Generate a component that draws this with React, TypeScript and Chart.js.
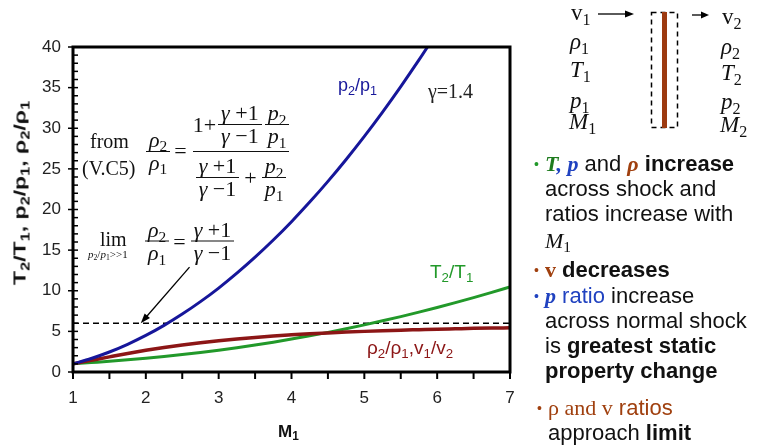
import React, { useEffect, useRef } from "react";
import { Chart, registerables } from "chart.js";

Chart.register(...registerables);

// ---- data (gamma = 1.4) ----
const machNumber = [1, 1.25, 1.5, 1.75, 2, 2.25, 2.5, 2.75, 3, 3.25, 3.5, 3.75, 4, 4.25, 4.5, 4.75, 5, 5.25, 5.5, 5.75, 6, 6.25, 6.5, 6.75, 7];
const pressureRatio = [1.0, 1.66, 2.46, 3.41, 4.5, 5.74, 7.13, 8.66, 10.33, 12.16, 14.13, 16.24, 18.5, 20.91, 23.46, 26.16, 29.0, 31.99, 35.13, 38.41, 41.83];
const densityRatio = [1.0, 1.43, 1.86, 2.28, 2.67, 3.02, 3.33, 3.61, 3.86, 4.07, 4.26, 4.43, 4.57, 4.7, 4.81, 4.91, 5.0, 5.08, 5.15, 5.21, 5.27, 5.32, 5.37, 5.41, 5.44];
const temperatureRatio = [1.0, 1.16, 1.32, 1.5, 1.69, 1.9, 2.14, 2.4, 2.68, 2.99, 3.32, 3.67, 4.05, 4.45, 4.88, 5.33, 5.8, 6.3, 6.82, 7.37, 7.94, 8.54, 9.16, 9.8, 10.47];
const limitValue = 6;
const xRange = [1, 7];
const yRange = [0, 40];
const xTickMarks = [1, 1.5, 2, 2.5, 3, 3.5, 4, 4.5, 5, 5.5, 6, 6.5, 7];
const arrowFrom = { x: 2.6, y: 12.9 };
const arrowTo = { x: 1.93, y: 6.0 };

const BLUE = "#16169a";
const GREEN = "#22992a";
const RED = "#8c1616";
const BROWN = "#a0400f";
const TXTBLUE = "#2042c0";
const SERIF = '"Liberation Serif", "Times New Roman", serif';
const SANS = '"Liberation Sans", Arial, sans-serif';

const toPoints = (ys: number[]) => ys.map((y, i) => ({ x: machNumber[i], y }));

const framePlugin = {
  id: "frame",
  afterDatasetsDraw(chart: any) {
    const { ctx, chartArea: a, scales } = chart;
    const x = scales.x;
    const y = scales.y;
    ctx.save();
    // arrow
    const x0 = x.getPixelForValue(arrowFrom.x);
    const y0 = y.getPixelForValue(arrowFrom.y);
    const x1 = x.getPixelForValue(arrowTo.x);
    const y1 = y.getPixelForValue(arrowTo.y);
    const ang = Math.atan2(y1 - y0, x1 - x0);
    ctx.strokeStyle = "#000";
    ctx.fillStyle = "#000";
    ctx.lineWidth = 1.3;
    ctx.beginPath();
    ctx.moveTo(x0, y0);
    ctx.lineTo(x1 - 6 * Math.cos(ang), y1 - 6 * Math.sin(ang));
    ctx.stroke();
    ctx.beginPath();
    ctx.moveTo(x1, y1);
    ctx.lineTo(x1 - 10 * Math.cos(ang) + 3.5 * Math.sin(ang), y1 - 10 * Math.sin(ang) - 3.5 * Math.cos(ang));
    ctx.lineTo(x1 - 10 * Math.cos(ang) - 3.5 * Math.sin(ang), y1 - 10 * Math.sin(ang) + 3.5 * Math.cos(ang));
    ctx.closePath();
    ctx.fill();
    // frame
    ctx.lineWidth = 3;
    ctx.strokeRect(a.left, a.top, a.right - a.left, a.bottom - a.top);
    // x tick marks
    ctx.lineWidth = 2;
    for (const v of xTickMarks) {
      const px = x.getPixelForValue(v);
      ctx.beginPath();
      ctx.moveTo(px, a.bottom);
      ctx.lineTo(px, a.bottom + 7);
      ctx.stroke();
    }
    // y tick marks
    ctx.lineWidth = 1.5;
    for (let v = yRange[0]; v <= yRange[1]; v++) {
      const py = y.getPixelForValue(v);
      const major = v % 5 === 0;
      ctx.beginPath();
      ctx.moveTo(a.left - (major ? 5 : 0), py);
      ctx.lineTo(a.left + 5, py);
      ctx.stroke();
    }
    ctx.restore();
  },
};

const Sub = ({ children }: any) => (
  <span style={{ fontSize: "0.7em", position: "relative", top: "0.3em", lineHeight: 0 }}>{children}</span>
);

const Txt = ({ x, base, size, family = SANS, color = "#111", style = {}, children }: any) => (
  <div
    style={{
      position: "absolute",
      left: x,
      top: base - size * 0.84,
      fontSize: size,
      lineHeight: `${size}px`,
      fontFamily: family,
      color,
      whiteSpace: "nowrap",
      ...style,
    }}
  >
    {children}
  </div>
);

const Frac = ({ n, d, pad = 3 }: any) => (
  <span style={{ display: "inline-flex", flexDirection: "column", alignItems: "center", verticalAlign: "middle" }}>
    <span style={{ lineHeight: "20px", padding: `0 ${pad}px 1px`, display: "flex", alignItems: "center" }}>{n}</span>
    <span
      style={{
        lineHeight: "20px",
        borderTop: "1.3px solid #111",
        alignSelf: "stretch",
        display: "flex",
        justifyContent: "center",
        alignItems: "center",
        paddingTop: 1,
      }}
    >
      {d}
    </span>
  </span>
);

const GP = <span><i>γ</i>&nbsp;+1</span>;
const GM = <span><i>γ</i>&nbsp;−1</span>;
const P2 = <span><i>p</i><Sub>2</Sub></span>;
const P1 = <span><i>p</i><Sub>1</Sub></span>;
const R2 = <span><i>ρ</i><Sub>2</Sub></span>;
const R1 = <span><i>ρ</i><Sub>1</Sub></span>;

const Bullet = ({ x, base, color, size = 22, children, style = {} }: any) => (
  <Txt x={x} base={base} size={size} style={style}>
    <span style={{ position: "absolute", left: -11, top: 0, fontSize: 14, color }}>•</span>
    {children}
  </Txt>
);

export default function App() {
  const canvasRef = useRef<HTMLCanvasElement>(null);

  useEffect(() => {
    if (!canvasRef.current) return;
    const font = { family: SANS, size: 17 };
    const chart = new Chart(canvasRef.current, {
      type: "line",
      data: {
        datasets: [
          {
            label: "p2/p1",
            data: toPoints(pressureRatio),
            borderColor: BLUE,
            borderWidth: 3,
            pointRadius: 0,
            cubicInterpolationMode: "monotone",
          },
          {
            label: "rho2/rho1, v1/v2",
            data: toPoints(densityRatio),
            borderColor: RED,
            borderWidth: 3.5,
            pointRadius: 0,
            cubicInterpolationMode: "monotone",
          },
          {
            label: "T2/T1",
            data: toPoints(temperatureRatio),
            borderColor: GREEN,
            borderWidth: 3,
            pointRadius: 0,
            cubicInterpolationMode: "monotone",
          },
          {
            label: "limit",
            data: [
              { x: xRange[0], y: limitValue },
              { x: xRange[1], y: limitValue },
            ],
            borderColor: "#000",
            borderWidth: 1.3,
            borderDash: [6, 4],
            pointRadius: 0,
          },
        ],
      },
      options: {
        responsive: false,
        animation: false,
        devicePixelRatio: 1,
        layout: { padding: { top: 47, right: 253, left: 0, bottom: 0 } },
        plugins: { legend: { display: false }, tooltip: { enabled: false } },
        scales: {
          x: {
            type: "linear",
            min: xRange[0],
            max: xRange[1],
            ticks: { stepSize: 1, padding: 16, color: "#222", font },
            grid: { display: false, drawTicks: false },
            border: { display: false },
            afterFit: (s: any) => {
              s.height = 76;
            },
          },
          y: {
            type: "linear",
            min: yRange[0],
            max: yRange[1],
            ticks: { stepSize: 5, padding: 12, color: "#222", font },
            grid: { display: false, drawTicks: false },
            border: { display: false },
            afterFit: (s: any) => {
              s.width = 73;
            },
          },
        },
      } as any,
      plugins: [framePlugin],
    });
    return () => chart.destroy();
  }, []);

  const mathBox: any = {
    position: "absolute",
    transform: "translateY(-50%)",
    display: "flex",
    alignItems: "center",
    fontFamily: SERIF,
    fontSize: 22,
    color: "#111",
    whiteSpace: "nowrap",
  };

  return (
    <div style={{ position: "absolute", left: 0, top: 0, width: 763, height: 448, background: "#fff", overflow: "hidden" }}>
      <canvas ref={canvasRef} width={763} height={448} style={{ position: "absolute", left: 0, top: 0, width: 763, height: 448 }} />

      {/* axis titles */}
      <div
        style={{
          position: "absolute",
          left: 20,
          top: 193,
          transform: "translate(-50%, -50%) rotate(-90deg) scaleX(1.36)",
          fontFamily: SANS,
          fontWeight: "bold",
          fontSize: 17,
          lineHeight: "17px",
          whiteSpace: "nowrap",
          color: "#111",
        }}
      >
        T<Sub>2</Sub>/T<Sub>1</Sub>, p<Sub>2</Sub>/p<Sub>1</Sub>, ρ<Sub>2</Sub>/ρ<Sub>1</Sub>
      </div>
      <Txt x={278} base={437} size={17} style={{ fontWeight: "bold" }}>
        M<Sub>1</Sub>
      </Txt>

      {/* curve labels */}
      <Txt x={338} base={91} size={18} color={BLUE}>
        p<Sub>2</Sub>/p<Sub>1</Sub>
      </Txt>
      <Txt x={428} base={98} size={20} family={SERIF} color="#222">
        γ=1.4
      </Txt>
      <Txt x={430} base={278} size={19} color={GREEN}>
        T<Sub>2</Sub>/T<Sub>1</Sub>
      </Txt>
      <Txt x={367} base={354} size={19} color={RED}>
        ρ<Sub>2</Sub>/ρ<Sub>1</Sub>,v<Sub>1</Sub>/v<Sub>2</Sub>
      </Txt>

      {/* equation (V.C5) */}
      <Txt x={90} base={148} size={20} family={SERIF}>from</Txt>
      <Txt x={82} base={175} size={20} family={SERIF}>(V.C5)</Txt>
      <div style={{ ...mathBox, left: 146, top: 151 }}>
        <Frac n={R2} d={R1} />
        <span style={{ margin: "0 6px 0 4px" }}>=</span>
        <Frac
          pad={0}
          n={
            <span style={{ display: "flex", alignItems: "center", paddingBottom: 4 }}>
              <span style={{ marginRight: 2 }}>1+</span>
              <Frac n={GP} d={GM} />
              <span style={{ width: 3 }} />
              <Frac n={P2} d={P1} />
            </span>
          }
          d={
            <span style={{ display: "flex", alignItems: "center", paddingTop: 3 }}>
              <Frac n={GP} d={GM} />
              <span style={{ margin: "0 5px" }}>+</span>
              <Frac n={P2} d={P1} />
            </span>
          }
        />
      </div>

      {/* limit equation */}
      <Txt x={100} base={246} size={20} family={SERIF}>lim</Txt>
      <Txt x={88} base={258} size={11} family={SERIF}>
        <i>p</i><Sub>2</Sub>/<i>p</i><Sub>1</Sub>&gt;&gt;1
      </Txt>
      <div style={{ ...mathBox, left: 145, top: 241 }}>
        <Frac n={R2} d={R1} />
        <span style={{ margin: "0 5px 0 4px" }}>=</span>
        <Frac n={GP} d={GM} />
      </div>

      {/* shock diagram */}
      <svg width={763} height={448} style={{ position: "absolute", left: 0, top: 0 }}>
        <line x1={598} y1={14} x2={626} y2={14} stroke="#000" strokeWidth={1.3} />
        <polygon points="634,14 625,10.5 625,17.5" fill="#000" />
        <line x1={692} y1={15} x2={702} y2={15} stroke="#000" strokeWidth={1.3} />
        <polygon points="709,15 701,11.5 701,18.5" fill="#000" />
        <rect x={651.5} y={12.5} width={26} height={115} fill="none" stroke="#000" strokeWidth={1.5} strokeDasharray="5,4" />
        <rect x={662} y={12} width={5} height={116} fill="#9c3a10" />
      </svg>
      <Txt x={571} base={20} size={23} family={SERIF}>v<Sub>1</Sub></Txt>
      <Txt x={570} base={49} size={23} family={SERIF}><i>ρ</i><Sub>1</Sub></Txt>
      <Txt x={570} base={77} size={23} family={SERIF}><i>T</i><Sub>1</Sub></Txt>
      <Txt x={570} base={108} size={23} family={SERIF}><i>p</i><Sub>1</Sub></Txt>
      <Txt x={569} base={129} size={23} family={SERIF}><i>M</i><Sub>1</Sub></Txt>
      <Txt x={722} base={24} size={23} family={SERIF}>v<Sub>2</Sub></Txt>
      <Txt x={721} base={54} size={23} family={SERIF}><i>ρ</i><Sub>2</Sub></Txt>
      <Txt x={721} base={80} size={23} family={SERIF}><i>T</i><Sub>2</Sub></Txt>
      <Txt x={721} base={109} size={23} family={SERIF}><i>p</i><Sub>2</Sub></Txt>
      <Txt x={720} base={132} size={23} family={SERIF}><i>M</i><Sub>2</Sub></Txt>

      {/* bullet text */}
      <Bullet x={545} base={171} color={GREEN}>
        <span style={{ fontFamily: SERIF, fontStyle: "italic", fontWeight: "bold", color: "#1e7b1e" }}>T</span>
        <span style={{ fontFamily: SERIF, fontStyle: "italic", fontWeight: "bold", color: TXTBLUE }}>, p</span>
        {" and "}
        <span style={{ fontFamily: SERIF, fontStyle: "italic", fontWeight: "bold", color: BROWN }}>ρ</span>
        <b> increase</b>
      </Bullet>
      <Txt x={545} base={196} size={22}>across shock and</Txt>
      <Txt x={545} base={221} size={22}>ratios increase with</Txt>
      <Txt x={545} base={248} size={22} family={SERIF}><i>M</i><Sub>1</Sub></Txt>
      <Bullet x={545} base={277} color={BROWN}>
        <span style={{ fontFamily: SERIF, fontWeight: "bold", color: BROWN }}>v</span>
        <b> decreases</b>
      </Bullet>
      <Bullet x={545} base={303} color={TXTBLUE}>
        <span style={{ fontFamily: SERIF, fontStyle: "italic", fontWeight: "bold", color: TXTBLUE }}>p</span>
        <span style={{ color: TXTBLUE }}> ratio</span> increase
      </Bullet>
      <Txt x={545} base={328} size={22}>across normal shock</Txt>
      <Txt x={545} base={353} size={22}>is <b>greatest static</b></Txt>
      <Txt x={545} base={378} size={22}><b>property change</b></Txt>
      <Bullet x={548} base={415} color={BROWN}>
        <span style={{ color: BROWN }}>
          <span style={{ fontFamily: SERIF }}>ρ and v</span> ratios
        </span>
      </Bullet>
      <Txt x={548} base={440} size={22}>approach <b>limit</b></Txt>
    </div>
  );
}
